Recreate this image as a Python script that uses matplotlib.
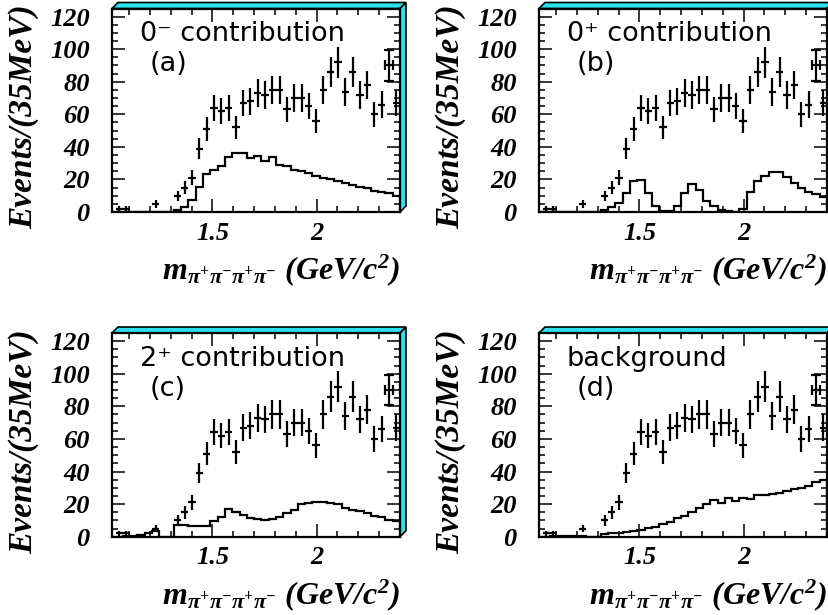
import numpy as np
import matplotlib
matplotlib.use("Agg")
import matplotlib.pyplot as plt
from matplotlib.patches import Polygon
from matplotlib.ticker import MultipleLocator, FixedLocator, FuncFormatter

plt.rcParams["font.family"] = "Liberation Serif"
plt.rcParams["font.weight"] = "bold"
plt.rcParams["font.style"] = "italic"
plt.rcParams["mathtext.fontset"] = "custom"
plt.rcParams["mathtext.rm"] = "Liberation Serif"
plt.rcParams["mathtext.it"] = "Liberation Serif:italic"
plt.rcParams["mathtext.bf"] = "Liberation Serif:bold"
plt.rcParams["mathtext.bfit"] = "Liberation Serif:bold:italic"

# 35 MeV bins, 1.0 - 2.4 GeV/c^2
bin_edges = np.round(1.0 + 0.035 * np.arange(41), 4)
bin_centers = 0.5 * (bin_edges[:-1] + bin_edges[1:])

# measured events per bin (same data in every panel)
data_counts = [0, 2, 2, 0, 0, 0, 5, 0, 0, 10,
               15, 21, 39, 51, 64, 62, 64, 52, 67, 68,
               73, 72, 75, 75, 63, 70, 70, 65, 56, 75,
               86, 92, 74, 86, 72, 78, 60, 66, 90, 67]

# fitted contributions
h_0minus = [0, 0, 0, 0, 0, 0, 0, 0, 0, 1.0,
            3.0, 7.5, 15.5, 23.5, 26.0, 28.0, 33.5, 36.0, 36.0, 33.0,
            34.5, 31.5, 34.0, 29.0, 28.0, 26.0, 25.0, 24.0, 22.0, 21.0,
            20.0, 18.8, 18.0, 16.7, 15.6, 14.5, 13.0, 12.4, 11.4, 9.6]
h_0plus = [0, 0, 0, 0, 0.3, 0.3, 0.3, 0, 0, 1.2,
           2.9, 5.8, 11.5, 19.0, 19.8, 11.5, 3.7, 0.6, 0.8, 3.9,
           11.5, 17.3, 13.6, 7.0, 3.7, 1.2, 0.4, 0.2, 1.6, 12.0,
           19.3, 22.2, 24.3, 24.3, 21.4, 17.7, 14.6, 12.5, 11.1, 9.5]
h_2plus = [0, 0, 0.4, 0.6, 1.0, 2.0, 3.3, 0, 0, 7.2,
           7.0, 6.6, 6.4, 6.8, 9.9, 11.9, 17.0, 15.0, 13.6, 11.3,
           10.7, 10.5, 10.9, 12.3, 14.4, 16.5, 19.8, 20.6, 21.2, 21.2,
           20.8, 19.8, 17.7, 16.5, 15.6, 14.4, 13.0, 11.9, 10.3, 9.5]
h_bkg = [0, 0, 0.5, 0.5, 0.6, 0.6, 0.6, 0, 0, 1.4,
         2.0, 2.5, 3.0, 3.7, 4.1, 5.1, 6.2, 7.6, 9.3, 11.3,
         13.0, 15.0, 17.5, 20.2, 22.6, 20.6, 23.7, 22.2, 23.7, 23.3,
         25.7, 25.7, 26.3, 27.1, 27.8, 29.2, 29.8, 31.3, 33.3, 35.0]

panel_titles = ["0\u207b contribution", "0\u207a contribution",
                "2\u207a contribution", "background"]
panel_tags = ["(a)", "(b)", "(c)", "(d)"]
curves = [h_0minus, h_0plus, h_2plus, h_bkg]

xlabel = (r"$\mathbfit{m}_{\mathrm{\pi^{+}\pi^{-}\pi^{+}\pi^{-}}}$"
          r" (GeV/c$^{\mathbfit{2}}$)")
ylabel = "Events/(35MeV)"

W, H = 829, 615
fig = plt.figure(figsize=(W / 100, H / 100), dpi=100)

# axes boxes in pixels: left, top, right, bottom
boxes = [(112, 8.5, 400, 212), (539, 8.5, 827, 212),
         (112, 333, 400, 536.7), (539, 333, 827, 536.7)]

cyan = "#2fe0ec"
counts = np.array(data_counts, dtype=float)
has = counts > 0

for i, (l, t, r, b) in enumerate(boxes):
    ax = fig.add_axes([l / W, 1 - b / H, (r - l) / W, (b - t) / H])
    ax.set_xlim(1.018, 2.4)
    ax.set_ylim(0, 125)

    ax.stairs(curves[i], bin_edges, color="black", lw=1.6, baseline=0)

    idx = np.where(has)[0]
    normal = idx[idx != 38]
    ax.errorbar(bin_centers[normal], counts[normal], yerr=np.sqrt(counts[normal]),
                xerr=0.0175, fmt="none", ecolor="black", elinewidth=1.6,
                capsize=0)
    ax.errorbar(bin_centers[38], counts[38], yerr=np.sqrt(counts[38]),
                xerr=0.0175, fmt="none", ecolor="black", elinewidth=1.6,
                capsize=3.5, capthick=1.6)

    ax.xaxis.set_major_locator(FixedLocator([1.5, 2.0]))
    ax.xaxis.set_minor_locator(MultipleLocator(0.1))
    ax.xaxis.set_major_formatter(FuncFormatter(lambda v, p: "%g" % v))
    ax.yaxis.set_major_locator(MultipleLocator(20))
    ax.yaxis.set_minor_locator(MultipleLocator(5))
    ax.yaxis.set_major_formatter(FuncFormatter(lambda v, p: "%g" % v))
    ax.tick_params(which="both", direction="in", top=True, right=True,
                   labelsize=19, width=1.1)
    ax.tick_params(which="major", length=9.5)
    ax.tick_params(which="minor", length=4.5)
    ax.tick_params(axis="x", pad=7)
    ax.tick_params(axis="y", pad=16)
    for lab in ax.get_xticklabels() + ax.get_yticklabels():
        lab.set_fontfamily("Liberation Serif")
        lab.set_fontweight("bold")
        lab.set_fontstyle("italic")
    for s in ax.spines.values():
        s.set_linewidth(1.6)

    # 3D-looking cyan edge of the frame
    dx = 6.0 / (r - l)
    dy = 6.0 / (b - t)
    top_band = Polygon([(0, 1), (dx, 1 + dy), (1 + dx, 1 + dy), (1, 1)],
                       closed=True, transform=ax.transAxes, clip_on=False,
                       facecolor=cyan, edgecolor="black", lw=1.2)
    side_band = Polygon([(1, 1), (1 + dx, 1 + dy), (1 + dx, dy), (1, 0)],
                        closed=True, transform=ax.transAxes, clip_on=False,
                        facecolor=cyan, edgecolor="black", lw=1.2)
    ax.add_patch(top_band)
    ax.add_patch(side_band)

    ax.text(0.097, 0.873, panel_titles[i], transform=ax.transAxes,
            family="DejaVu Sans", weight="normal", style="normal",
            fontsize=19.5, ha="left", va="center")
    ax.text(0.132, 0.727, panel_tags[i], transform=ax.transAxes,
            family="DejaVu Sans", weight="normal", style="normal",
            fontsize=19.5, ha="left", va="center")

    ax.text(-0.305, 0.466, ylabel, transform=ax.transAxes, rotation=90,
            fontsize=24, ha="center", va="center")
    ax.text(1.0, -0.285, xlabel, transform=ax.transAxes,
            fontsize=23, ha="right", va="center")

fig.savefig("out.png", dpi=100)
